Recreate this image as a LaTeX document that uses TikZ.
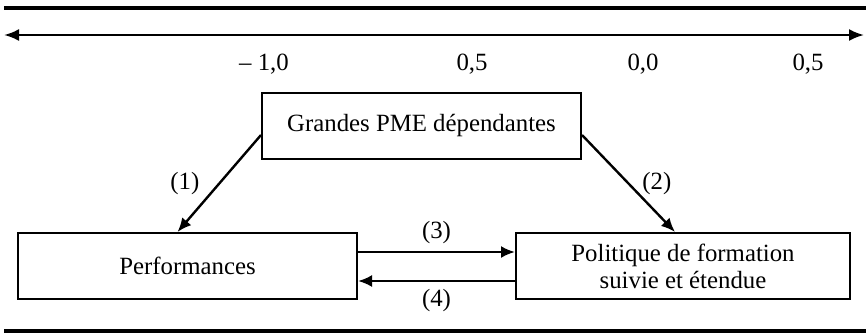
\documentclass[tikz,border=0pt]{standalone}
\usepackage{fontspec}
\setmainfont{Liberation Serif}
\usepackage{tikz}
\usetikzlibrary{positioning,calc,arrows.meta}

\begin{document}
\begin{tikzpicture}[x=0.5pt, y=-0.5pt, font=\fontsize{12.4}{13.5}\selectfont,
        box/.style={rectangle, draw, line width=1pt, minimum height=33pt, align=center, inner sep=2pt},
        arr/.style={draw, line width=1.2pt, -{Latex[length=7pt,width=6pt]}},
        rule/.style={draw, line width=1.8pt}]
        \useasboundingbox (0,0) rectangle (866,333);

        % axe du haut
        \coordinate (rl) at (4,8);
        \coordinate (rr) at (866,8);
        \coordinate (al) at (4,35);
        \coordinate (ar) at (864,35);
        \path [rule] (rl) -- (rr);
        \draw [line width=1.2pt, {Latex[length=7.5pt,width=6pt]}-{Latex[length=7.5pt,width=6pt]}] (al) -- (ar);
        \node (t1) at (264,64) {\textendash\ 1,0};
        \node (t2) at (472,64) {0,5};
        \node (t3) at (643,64) {0,0};
        \node (t4) at (808,64) {0,5};

        \node [box, minimum width=159.5pt] (gpme) at (421.5,126) {Grandes PME dépendantes};
        \node [box, minimum width=169.5pt] (perf) at (187.5,266) {Performances};
        \node [box, minimum width=167pt] (pol) at (683,266) {Politique de formation\\suivie et étendue};

        \path [arr] ([yshift=-4.5pt]gpme.west) -- node[midway, left=6pt] {(1)} ([xshift=-5pt]perf.north);
        \path [arr] ([yshift=-4.5pt]gpme.east) -- node[midway, right=3pt] {(2)} ([xshift=-4pt]pol.north);
        \path [arr] ([yshift=7pt]perf.east) -- node[midway, above] {(3)} ([yshift=7pt]pol.west);
        \path [arr] ([yshift=-7.5pt]pol.west) -- node[midway, below] {(4)} ([yshift=-7.5pt]perf.east);

        % filet du bas
        \coordinate (bl) at (4,331);
        \coordinate (br) at (866,331);
        \path [rule] (bl) -- (br);
    \end{tikzpicture}
\end{document}
